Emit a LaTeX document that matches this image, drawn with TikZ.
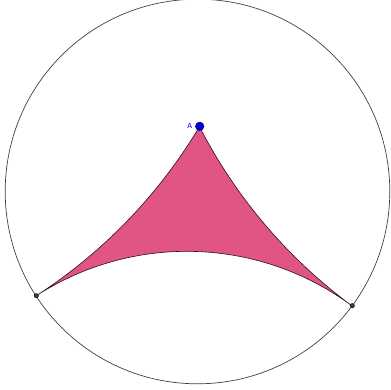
\documentclass[tikz,border=0pt]{standalone}
\usepackage{fontspec}
\setmainfont{DejaVu Sans}
\definecolor{tri}{RGB}{224,84,134}
\definecolor{ptblue}{RGB}{0,0,230}
\definecolor{ptgray}{RGB}{60,60,60}
\tikzset{
  disk/.style={draw=black!75, line width=0.7pt},
  tribox/.style={fill=tri, draw=black!80!tri, line width=0.6pt},
  ideal/.style={circle, fill=ptgray, draw=black, line width=0.3pt, inner sep=0pt, minimum size=4.5pt},
  ptA/.style={circle, fill=ptblue, draw=black!60!blue, line width=0.5pt, inner sep=0pt, minimum size=8.5pt},
  lab/.style={text=ptblue, font=\fontsize{7}{8}\selectfont, inner sep=0pt}
}
\begin{document}
\begin{tikzpicture}[x=1pt,y=1pt]
\useasboundingbox (-197.5,-197.5) rectangle (193.5,191.5);
\coordinate (C) at (0,0);
\draw[disk] (C) circle (192.3);
\coordinate (A) at (2.2,65.2);
\coordinate (P1) at (-161.2,-104.2);
\coordinate (P2) at (154.8,-114.2);
\path[tribox] (A) arc[start angle=-30.82, end angle=-57.12, radius=517.4]
  arc[start angle=122.86, end angle=53.43, radius=277.5]
  arc[start angle=233.66, end angle=207.16, radius=513.9] -- cycle;
\node[ideal] (n1) at (P1) {};
\node[ideal] (n2) at (P2) {};
\node[ptA] (nA) at (A) {};
\node[lab] (lA) at (-7.8,66) {A};
\end{tikzpicture}
\end{document}
